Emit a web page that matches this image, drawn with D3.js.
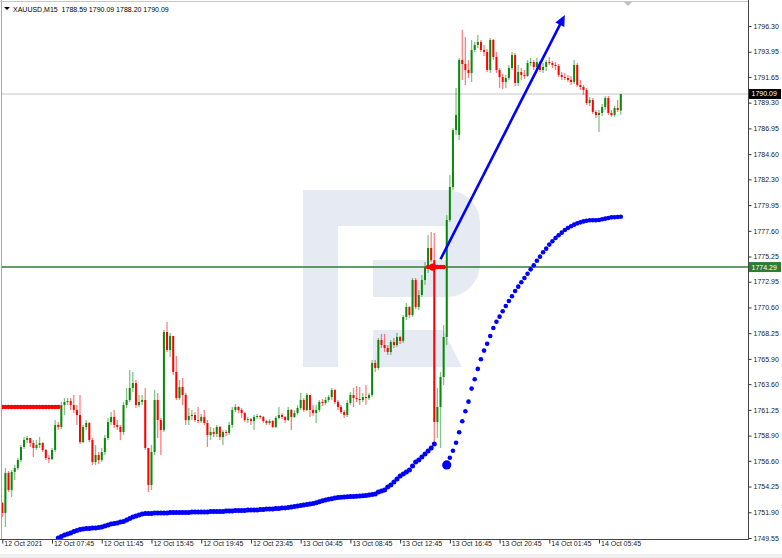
<!DOCTYPE html>
<html><head><meta charset="utf-8">
<script src="https://cdn.jsdelivr.net/npm/d3@7"></script>
<style>html,body{margin:0;padding:0;background:#fff;} svg{display:block;} text{font-family:"Liberation Sans",Arial,sans-serif;}</style>
</head><body><svg id="c" width="782" height="558"></svg>
<script>
const symbolTitle = "XAUUSD,M15";
const opens = [
1752.75,1751.83,1755.49,1753.93,1755.58,1755.94,1756.67,1757.86,1758.50,1758.68,
1758.22,1757.77,1758.04,1758.22,1757.59,1756.85,1756.76,1757.59,1759.87,1759.69,
1761.69,1761.97,1762.06,1761.69,1761.24,1760.78,1758.31,1759.69,1760.05,1758.50,
1756.49,1757.13,1756.67,1757.40,1758.68,1760.14,1760.60,1759.87,1759.69,1759.23,
1761.69,1762.15,1763.25,1763.70,1761.69,1761.97,1762.15,1757.77,1754.39,1757.40,
1762.15,1760.32,1759.41,1768.36,1766.72,1768.00,1764.71,1762.33,1763.34,1762.61,
1760.32,1760.69,1760.78,1760.32,1760.23,1760.60,1760.05,1758.95,1759.23,1759.05,
1759.69,1758.77,1759.23,1759.14,1759.87,1761.24,1761.51,1761.24,1760.96,1760.32,
1760.41,1760.23,1760.60,1760.69,1760.60,1760.23,1760.05,1760.23,1759.69,1760.51,
1760.78,1760.60,1760.32,1761.24,1760.60,1760.96,1761.42,1762.15,1761.24,1762.61,
1761.24,1760.96,1761.24,1761.97,1761.88,1762.15,1762.42,1763.06,1761.97,1761.51,
1761.05,1760.78,1761.88,1762.61,1762.33,1762.24,1762.15,1762.42,1762.33,1762.61,
1765.53,1765.07,1767.63,1767.17,1766.90,1766.53,1767.45,1767.17,1767.90,1767.54,
1769.73,1770.64,1769.91,1773.11,1770.64,1771.74,1773.11,1774.29,1776.03,1774.93,
1760.14,1761.51,1764.25,1767.90,1778.59,1781.60,1786.80,1786.35,1793.20,1792.83,
1792.28,1792.01,1794.11,1794.57,1794.84,1794.11,1793.93,1792.28,1795.02,1793.47,
1792.28,1791.64,1791.19,1791.55,1792.47,1793.65,1791.10,1792.10,1791.83,1791.74,
1792.92,1793.01,1792.56,1793.01,1792.28,1792.56,1793.01,1792.92,1792.74,1792.65,
1791.83,1791.64,1791.55,1791.37,1791.19,1792.74,1790.91,1790.73,1790.46,1789.27,
1789.54,1788.45,1788.17,1788.36,1788.90,1789.72,1788.36,1788.17,1788.81,1788.59];
const highs = [
1752.84,1755.94,1755.67,1755.76,1756.22,1756.85,1758.04,1758.77,1758.86,1758.68,
1758.50,1758.50,1758.77,1758.31,1757.68,1757.13,1757.77,1760.32,1760.14,1761.97,
1762.33,1762.33,1762.33,1762.61,1761.69,1762.61,1759.87,1760.32,1760.14,1758.68,
1758.04,1757.40,1757.77,1758.95,1760.51,1761.05,1761.24,1760.32,1759.87,1761.97,
1763.25,1764.89,1764.71,1763.98,1762.61,1762.61,1763.25,1757.77,1758.04,1763.06,
1762.79,1760.51,1768.54,1769.27,1768.27,1768.00,1766.17,1763.98,1764.16,1762.79,
1761.42,1761.24,1761.05,1761.51,1760.87,1761.24,1760.32,1759.69,1759.60,1759.87,
1759.78,1759.41,1759.41,1760.14,1761.51,1761.79,1761.60,1761.42,1761.05,1760.60,
1760.51,1760.78,1760.87,1760.78,1760.69,1760.32,1760.41,1760.32,1760.69,1761.51,
1760.96,1760.69,1761.51,1761.33,1761.24,1761.69,1762.79,1762.33,1762.79,1762.61,
1761.69,1761.69,1762.15,1762.24,1762.42,1762.61,1763.25,1763.16,1762.15,1761.69,
1761.24,1762.15,1762.88,1763.25,1763.43,1763.34,1762.79,1763.52,1762.79,1765.80,
1765.80,1767.81,1768.18,1768.18,1767.17,1767.63,1767.81,1768.27,1768.00,1769.91,
1771.01,1770.73,1773.29,1773.29,1772.19,1773.56,1774.75,1777.22,1777.49,1777.40,
1763.25,1764.71,1769.00,1779.04,1782.69,1786.99,1790.64,1793.38,1795.93,1795.30,
1793.20,1795.02,1794.84,1795.48,1795.02,1794.57,1794.20,1795.20,1795.11,1793.93,
1792.47,1791.92,1791.83,1792.74,1793.93,1793.84,1792.74,1792.47,1792.28,1793.20,
1793.38,1793.20,1793.38,1793.11,1792.92,1793.20,1793.47,1793.11,1793.01,1792.83,
1792.10,1792.01,1791.83,1791.74,1793.20,1792.92,1791.37,1790.91,1790.64,1789.82,
1789.72,1788.63,1788.63,1789.18,1789.91,1789.91,1788.63,1788.99,1789.54,1790.09];
const lows = [
1751.47,1750.55,1753.75,1753.29,1754.85,1755.76,1756.49,1757.68,1758.22,1757.86,
1756.95,1757.59,1757.77,1757.40,1756.67,1756.40,1756.67,1757.40,1759.41,1759.50,
1760.78,1761.69,1761.24,1760.96,1759.87,1758.13,1758.22,1759.41,1758.31,1756.22,
1756.22,1756.31,1756.49,1757.13,1758.50,1759.87,1759.60,1759.41,1758.50,1758.95,
1761.42,1761.97,1762.88,1761.42,1761.51,1761.69,1757.59,1753.75,1753.93,1757.13,
1758.68,1757.13,1759.23,1766.53,1766.08,1764.43,1762.15,1762.15,1761.69,1759.87,
1759.87,1760.32,1760.14,1760.05,1760.05,1759.87,1757.86,1758.50,1758.77,1758.77,
1758.50,1758.04,1758.86,1758.95,1759.60,1761.05,1760.96,1760.51,1760.14,1760.05,
1759.87,1759.41,1760.41,1760.41,1760.05,1759.87,1759.87,1759.60,1759.60,1760.41,
1760.41,1760.05,1760.23,1759.41,1760.51,1760.78,1761.24,1761.05,1761.15,1760.60,
1760.69,1760.05,1761.05,1761.60,1761.69,1761.97,1762.15,1761.79,1761.24,1760.87,
1760.51,1760.60,1761.69,1761.51,1761.97,1761.69,1761.97,1761.69,1762.15,1762.42,
1764.71,1764.89,1766.90,1766.53,1766.26,1766.26,1766.90,1766.99,1767.26,1767.35,
1769.46,1769.64,1769.73,1770.46,1770.37,1771.56,1772.65,1773.75,1774.75,1758.04,
1758.68,1757.77,1763.52,1767.17,1778.40,1781.33,1786.35,1785.89,1791.37,1790.91,
1791.55,1791.19,1793.93,1794.29,1793.93,1793.56,1792.10,1792.01,1793.20,1792.01,
1790.64,1790.55,1790.64,1791.37,1792.28,1790.82,1790.82,1791.37,1791.46,1791.64,
1792.65,1792.28,1792.38,1792.10,1792.01,1792.19,1792.74,1792.47,1792.28,1791.64,
1791.37,1791.37,1791.19,1790.91,1791.01,1790.73,1790.46,1790.00,1789.09,1789.00,
1788.26,1787.90,1786.62,1788.08,1788.63,1788.17,1787.99,1787.99,1788.45,1788.20];
const closes = [
1751.83,1755.49,1753.93,1755.58,1755.94,1756.67,1757.86,1758.50,1758.68,1758.22,
1757.77,1758.04,1758.22,1757.59,1756.85,1756.76,1757.59,1759.87,1759.69,1761.69,
1761.97,1762.06,1761.69,1761.24,1760.78,1758.31,1759.69,1760.05,1758.50,1756.49,
1757.13,1756.67,1757.40,1758.68,1760.14,1760.60,1759.87,1759.69,1759.23,1761.69,
1762.15,1763.25,1763.70,1761.69,1761.97,1762.15,1757.77,1754.39,1757.40,1762.15,
1760.32,1759.41,1768.36,1766.72,1768.00,1764.71,1762.33,1763.34,1762.61,1760.32,
1760.69,1760.78,1760.32,1760.23,1760.60,1760.05,1758.95,1759.23,1759.05,1759.69,
1758.77,1759.23,1759.14,1759.87,1761.24,1761.51,1761.24,1760.96,1760.32,1760.41,
1760.23,1760.60,1760.69,1760.60,1760.23,1760.05,1760.23,1759.69,1760.51,1760.78,
1760.60,1760.32,1761.24,1760.60,1760.96,1761.42,1762.15,1761.24,1762.61,1761.24,
1760.96,1761.24,1761.97,1761.88,1762.15,1762.42,1763.06,1761.97,1761.51,1761.05,
1760.78,1761.88,1762.61,1762.33,1762.24,1762.15,1762.42,1762.33,1762.61,1765.53,
1765.07,1767.63,1767.17,1766.90,1766.53,1767.45,1767.17,1767.90,1767.54,1769.73,
1770.64,1769.91,1773.11,1770.64,1771.74,1773.11,1774.29,1776.03,1774.93,1760.14,
1761.51,1764.25,1767.90,1778.59,1781.60,1786.80,1788.17,1793.20,1792.83,1792.28,
1792.01,1794.11,1794.57,1794.84,1794.11,1793.93,1792.28,1795.02,1793.47,1792.28,
1791.64,1791.19,1791.55,1792.47,1793.65,1791.10,1792.10,1791.83,1791.74,1792.92,
1793.01,1792.56,1793.01,1792.28,1792.56,1793.01,1792.92,1792.74,1792.65,1791.83,
1791.64,1791.55,1791.37,1791.19,1792.74,1790.91,1790.73,1790.46,1789.27,1789.54,
1788.45,1788.17,1788.36,1788.90,1789.72,1788.36,1788.17,1788.81,1788.63,1790.09];

// Indicator dots (bar index start + values)
const sarRedAStart = 0;
const sarRedA = [1761.51,1761.51,1761.51,1761.51,1761.51,1761.51,1761.51,1761.51,1761.51,1761.51,
1761.51,1761.51,1761.51,1761.51,1761.51,1761.51,1761.51,1761.51,1761.51];
const sarRedBStart = 137;
const sarRedB = [1774.29,1774.29,1774.29,1774.29,1774.29,1774.29];
const sarBlueAStart = 18;
const sarBlueA = [
1749.55,1749.69,1749.82,1749.91,1750.00,1750.14,1750.23,1750.33,1750.37,1750.42,
1750.42,1750.46,1750.46,1750.51,1750.55,1750.65,1750.74,1750.83,1750.87,1750.92,
1751.01,1751.06,1751.19,1751.33,1751.47,1751.56,1751.65,1751.74,1751.79,1751.79,
1751.79,1751.83,1751.83,1751.83,1751.83,1751.83,
1751.88,1751.88,1751.88,1751.88,1751.88,1751.88,1751.88,
1751.92,1751.92,1751.92,1751.92,1751.92,1751.92,
1751.97,1751.97,1751.97,1751.97,1751.97,
1752.01,1752.01,1752.01,
1752.06,1752.06,1752.06,1752.06,
1752.11,1752.11,1752.11,1752.11,
1752.15,1752.15,1752.20,1752.20,1752.20,1752.24,1752.24,1752.29,1752.29,
1752.33,1752.38,1752.42,1752.47,1752.51,1752.56,1752.60,1752.65,1752.70,1752.78,
1752.86,1752.95,1753.02,1753.08,1753.14,1753.20,1753.24,1753.27,1753.29,1753.31,
1753.33,1753.35,1753.37,1753.38,1753.40,1753.43,1753.47,1753.52,1753.57,1753.75,
1753.84,1753.93,1754.20,1754.39,1754.66,1754.94,1755.21,1755.39,1755.58,1755.76,
1756.12,1756.49,1756.67,1756.95,1757.22,1757.50,1757.77,1758.14];
const sarBlueBStart = 143;
const sarBlueB = [
1756.22,1756.88,1757.52,1758.25,1759.20,1760.21,1761.12,1762.00,1763.19,1764.04,
1764.99,1765.87,1766.66,1767.29,1768.00,1768.73,1769.30,1769.76,1770.25,1770.73,
1771.19,1771.62,1772.10,1772.50,1772.90,1773.29,1773.68,1774.08,1774.45,1774.87,
1775.24,1775.64,1775.97,1776.34,1776.64,1776.94,1777.19,1777.43,1777.67,1777.86,
1778.01,1778.16,1778.28,1778.37,1778.46,1778.52,1778.56,1778.56,1778.56,1778.59,
1778.65,1778.71,1778.77,1778.83,1778.84,1778.86,1778.88];

const levelPrice = 1774.29;
const arrowFrom = {bar: 141, price: 1775.0};
const arrowTo = {bar: 181, price: 1797.3};

const yTicks = [1796.30,1793.95,1791.65,1789.30,1786.95,1784.60,1782.30,1779.95,1777.60,1775.25,
1772.95,1770.60,1768.25,1765.90,1763.60,1761.25,1758.90,1756.60,1754.25,1751.90,1749.55];
const xTickBars = [0,16,32,48,64,80,96,112,128,144,160,176,192];
const xLabels = ["12 Oct 2021","12 Oct 07:45","12 Oct 11:45","12 Oct 15:45","12 Oct 19:45","12 Oct 23:45",
"13 Oct 04:45","13 Oct 08:45","13 Oct 12:45","13 Oct 16:45","13 Oct 20:45","14 Oct 01:45","14 Oct 05:45"];

// ---------- drawing ----------
const svg = d3.select("#c");
const P = {left:1.5, right:748.5, top:1.5, bottom:539.5};
const x = d3.scaleLinear().domain([0, 240]).range([2.3, 748.2]);
const y = d3.scaleLinear().domain([1749.55, 1796.30]).range([538, 26]);
const GREEN = "#0a8a0a", RED = "#ff0000", BLUE = "#0000ff";
const fmt = d3.format(".2f");

svg.append("rect").attr("width",782).attr("height",558).attr("fill","#fff");
svg.append("rect").attr("x",0).attr("y",554).attr("width",782).attr("height",4).attr("fill","#f0f0f0");

// watermark logo
const wm = svg.append("g").attr("fill","#e6ebf3");
wm.append("path").attr("d","M303,190 H447 A33,33 0 0 1 480,223 V264 A33,33 0 0 1 447,297 H373 V260 H447 V226 H338 V367 H303 Z");
wm.append("path").attr("d","M373,330 H443 L462,367 H373 Z");

const clip = svg.append("clipPath").attr("id","pc").append("rect")
  .attr("x",P.left).attr("y",P.top).attr("width",P.right-P.left).attr("height",P.bottom-P.top);
const g = svg.append("g").attr("clip-path","url(#pc)");

// current price line
const last = closes.length-1;
g.append("line").attr("x1",P.left).attr("x2",P.right)
  .attr("y1",y(closes[last])).attr("y2",y(closes[last]))
  .attr("stroke","#c4c4c4").attr("stroke-width",1);

// candles
const bars = d3.range(closes.length).map(i => ({i, o:opens[i], h:highs[i], l:lows[i], c:closes[i]}));
g.append("g").selectAll("line").data(bars).join("line")
  .attr("x1",d=>x(d.i)).attr("x2",d=>x(d.i))
  .attr("y1",d=>y(d.h)).attr("y2",d=>y(d.l))
  .attr("stroke",d=>d.c>=d.o?GREEN:RED).attr("stroke-opacity",0.5).attr("stroke-width",1.3);
g.append("g").selectAll("rect").data(bars).join("rect")
  .attr("x",d=>x(d.i)-1).attr("width",2)
  .attr("y",d=>y(Math.max(d.o,d.c)))
  .attr("height",d=>Math.max(1, Math.abs(y(d.o)-y(d.c))))
  .attr("fill",d=>d.c>=d.o?GREEN:RED);

// horizontal level
g.append("line").attr("x1",P.left).attr("x2",P.right)
  .attr("y1",y(levelPrice)).attr("y2",y(levelPrice))
  .attr("stroke","#2e7d32").attr("stroke-width",1.6);

// dots
function dots(start, vals, color, r){
  g.append("g").selectAll("circle").data(vals).join("circle")
    .attr("cx",(d,k)=>x(start+k)).attr("cy",d=>y(d)).attr("r",r).attr("fill",color);
}
dots(sarRedAStart, sarRedA, RED, 2.3);
dots(sarRedBStart, sarRedB, RED, 2.3);
g.append("circle").attr("cx",x(sarRedBStart+1.5)).attr("cy",y(sarRedB[1])).attr("r",3.6).attr("fill",RED);
dots(sarBlueAStart, sarBlueA, BLUE, 2.5);
dots(sarBlueBStart+1, sarBlueB.slice(1), BLUE, 2.3);
g.append("circle").attr("cx",x(sarBlueBStart)).attr("cy",y(sarBlueB[0])).attr("r",4.6).attr("fill",BLUE);

// arrow
const ax1=x(arrowFrom.bar), ay1=y(arrowFrom.price), ax2=x(arrowTo.bar), ay2=y(arrowTo.price);
const ang = Math.atan2(ay2-ay1, ax2-ax1);
const hl = 11, hw = 5;
const bx = ax2 - hl*Math.cos(ang), by = ay2 - hl*Math.sin(ang);
g.append("line").attr("x1",ax1).attr("y1",ay1).attr("x2",bx+2*Math.cos(ang)).attr("y2",by+2*Math.sin(ang))
  .attr("stroke",BLUE).attr("stroke-width",2.6);
g.append("path").attr("fill",BLUE).attr("d",
  `M${ax2},${ay2} L${bx - hw*Math.sin(ang)},${by + hw*Math.cos(ang)} L${bx + hw*Math.sin(ang)},${by - hw*Math.cos(ang)} Z`);

// frame
svg.append("line").attr("x1",P.left).attr("x2",P.left).attr("y1",0).attr("y2",P.bottom).attr("stroke","#a8a8a8");
svg.append("line").attr("x1",0).attr("x2",P.right).attr("y1",P.top).attr("y2",P.top).attr("stroke","#c8c8c8");
svg.append("line").attr("x1",P.right).attr("x2",P.right).attr("y1",0).attr("y2",P.bottom).attr("stroke","#444");
svg.append("line").attr("x1",0).attr("x2",P.right).attr("y1",P.bottom).attr("y2",P.bottom).attr("stroke","#444");

// shift marker
svg.append("path").attr("d","M624,2 L632,2 L628,6 Z").attr("fill","#bdbdbd");

// y axis
const yAx = svg.append("g").attr("transform",`translate(${P.right},0)`)
  .call(d3.axisRight(y).tickValues(yTicks).tickSize(3).tickPadding(2).tickFormat(fmt));
yAx.select(".domain").remove();
yAx.selectAll("line").attr("stroke","#333");
yAx.selectAll("text").attr("font-size","7px").attr("fill","#222").attr("font-family","Liberation Sans, Arial, sans-serif");

// x axis
const xAx = svg.append("g").attr("transform",`translate(0,${P.bottom})`)
  .call(d3.axisBottom(x).tickValues(xTickBars).tickSize(4).tickPadding(0).tickFormat((d,k)=>xLabels[k]));
xAx.select(".domain").remove();
xAx.selectAll("line").attr("stroke","#333");
xAx.selectAll("text").attr("font-size","7px").attr("fill","#222").attr("text-anchor","start")
  .attr("dx","1.5").attr("dy","0.4em").attr("font-family","Liberation Sans, Arial, sans-serif");

// price tags
function tag(price, bg){
  const yy = y(price);
  svg.append("rect").attr("x",P.right+0.5).attr("y",yy-5).attr("width",32).attr("height",10).attr("fill",bg);
  svg.append("text").attr("x",P.right+3).attr("y",yy).attr("dy","0.35em")
    .attr("font-size","7px").attr("fill","#fff").text(fmt(price));
}
tag(closes[last], "#000");
tag(levelPrice, "#2e7d32");

// title
svg.append("path").attr("d","M4,7 L10,7 L7,10 Z").attr("fill","#000");
svg.append("text").attr("x",13).attr("y",11.5).attr("font-size","7px").attr("fill","#000")
  .style("white-space","pre")
  .text(`${symbolTitle}  ${fmt(opens[last])} ${fmt(highs[last])} ${fmt(lows[last])} ${fmt(closes[last])}`);
</script></body></html>
